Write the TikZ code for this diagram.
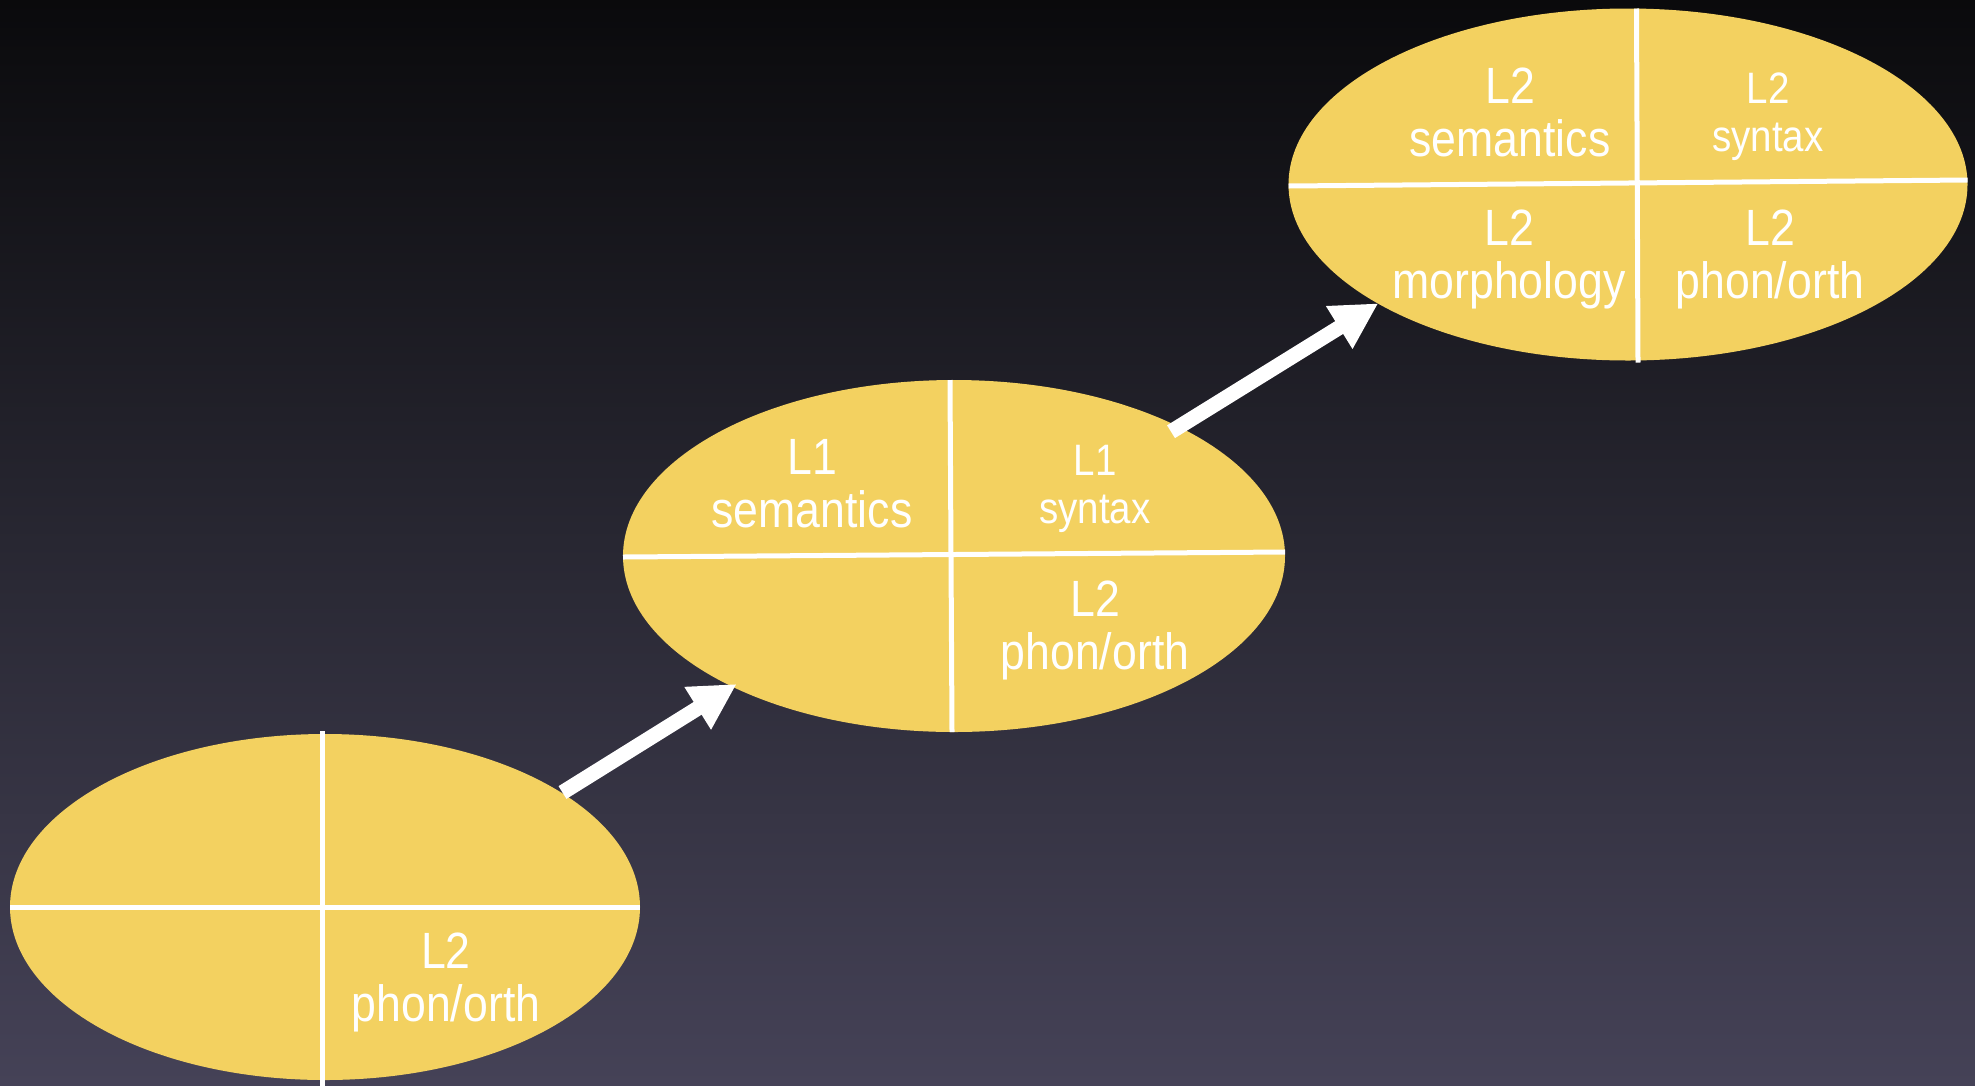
\documentclass[tikz,border=0pt]{standalone}
\usepackage{fontspec}
\setmainfont{Liberation Sans}[FakeStretch=0.875]
\usetikzlibrary{shapes.geometric,arrows.meta,calc}
\definecolor{bgtop}{RGB}{10,10,12}
\definecolor{bgmid}{RGB}{40,39,50}
\definecolor{bgbot}{RGB}{69,66,87}
\definecolor{gold}{RGB}{243,209,96}
\begin{document}
\begin{tikzpicture}[x=1pt,y=-1pt,
  oval/.style={ellipse, fill=gold, inner sep=0pt, outer sep=0pt},
  divider/.style={white, line width=5pt},
  bigarrow/.style={white, line width=15pt, -{Triangle[length=46pt,width=47pt]}},
  lbl/.style={text=white, align=center, inner sep=0pt, font=\fontsize{51}{53}\selectfont},
  slbl/.style={lbl, font=\fontsize{44}{48}\selectfont}]
\useasboundingbox (0,0) rectangle (1975,1085);
\shade[top color=bgtop, bottom color=bgbot, middle color=bgmid] (0,0) rectangle (1975,1085);
\clip (0,0) rectangle (1975,1085);
% ellipses
\node[oval, minimum width=630pt, minimum height=346pt] (e1) at (325,907) {};
\node[oval, minimum width=662pt, minimum height=352pt] (e2) at (954,556) {};
\node[oval, minimum width=679pt, minimum height=352pt] (e3) at (1628,184.5) {};
% dividers
\draw[divider] ($(e1.center)+(-315,0)$) -- ($(e1.center)+(315,0)$);
\draw[divider] ($(e1.center)+(-3,-176)$) -- ($(e1.center)+(-3,185)$);
\draw[divider] ($(e2.center)+(-331,1)$) -- ($(e2.center)+(331,-4)$);
\draw[divider] ($(e2.center)+(-4,-176)$) -- ($(e2.center)+(-2,176)$);
\draw[divider] ($(e3.center)+(-339.5,1.5)$) -- ($(e3.center)+(339.5,-4.5)$);
\draw[divider] ($(e3.center)+(8.5,-176)$) -- ($(e3.center)+(10,178)$);
% labels
\node[lbl] (t1) at (446,982) {L2\\phon/orth};
\node[lbl] (t2) at (812,483.5) {L1\\semantics};
\node[slbl] (t3) at (1095,488.6) {L1\\syntax};
\node[lbl] (t4) at (1095,630) {L2\\phon/orth};
\node[lbl] (t5) at (1510,112.5) {L2\\semantics};
\node[slbl] (t6) at (1768,116.6) {L2\\syntax};
\node[lbl] (t7) at (1509,259) {L2\\morphology};
\node[lbl] (t8) at (1770,259) {L2\\phon/orth};
% arrows
\draw[bigarrow] ($(e1.center)+(237.5,-114.5)$) -- ($(e2.center)+(-217.3,128)$);
\draw[bigarrow] ($(e2.center)+(217,-124.3)$) -- ($(e3.center)+(-249.7,118.8)$);
\end{tikzpicture}
\end{document}
